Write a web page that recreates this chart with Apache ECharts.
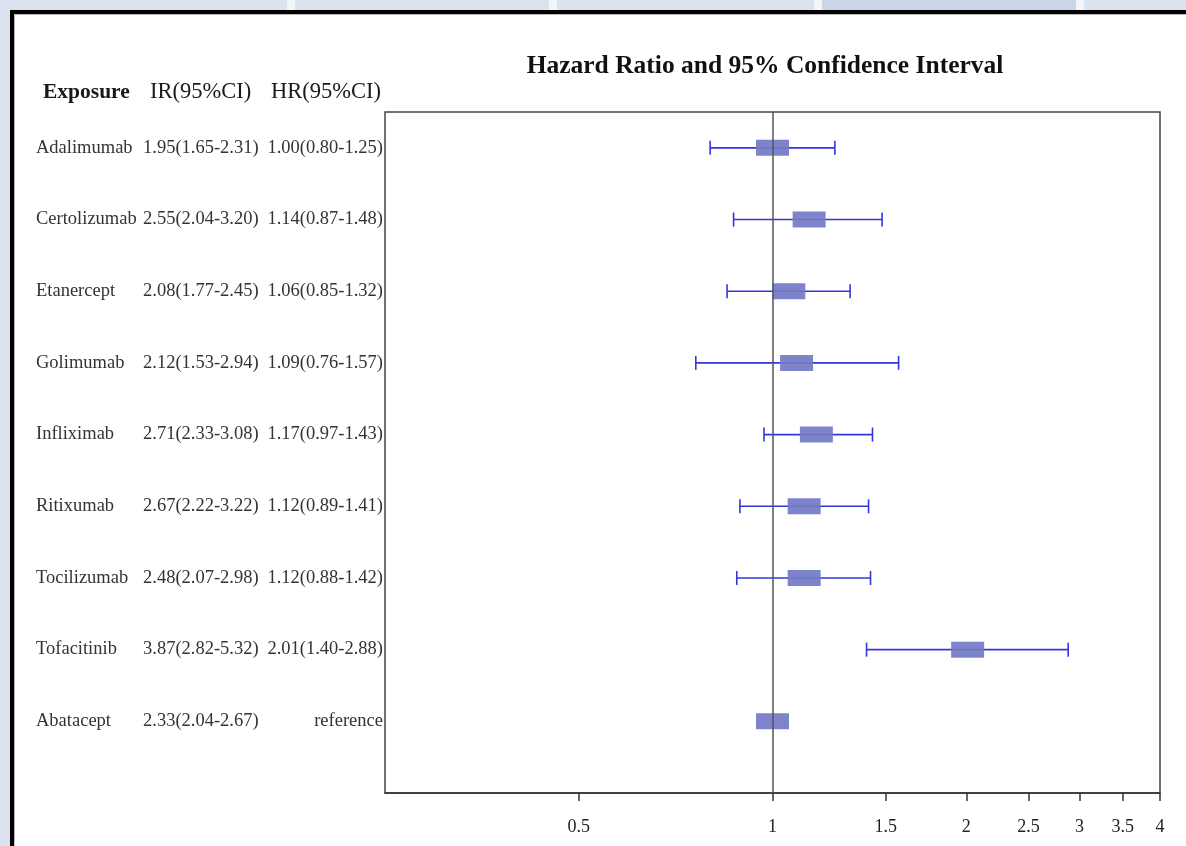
<!DOCTYPE html>
<html><head><meta charset="utf-8">
<script src="https://cdn.jsdelivr.net/npm/echarts@6/dist/echarts.min.js"></script>
<style>
html,body{margin:0;padding:0;width:1186px;height:846px;overflow:hidden;background:#dbe3f0;}
#frame{position:absolute;left:10px;top:10px;width:1200px;height:900px;border:4px solid #000;background:#fff;}
#frame:before{content:'';position:absolute;left:0;top:0;right:0;bottom:0;border-left:1px solid #bbb;border-top:1px solid #bbb;}
#chart{position:absolute;left:0;top:0;width:1186px;height:846px;}
.sep{position:absolute;top:0;height:10px;width:8px;background:#f3f5f9;}
#tab{position:absolute;top:0;left:822px;width:254px;height:10px;background:#c9d6ea;}
</style></head><body>
<div id="tab"></div>
<div class="sep" style="left:287px"></div>
<div class="sep" style="left:549px"></div>
<div class="sep" style="left:814px"></div>
<div class="sep" style="left:1076px"></div>
<div id="frame"></div>
<div id="chart"></div>
<script>
// ---- data ----
const exposures = ['Adalimumab','Certolizumab','Etanercept','Golimumab','Infliximab','Ritixumab','Tocilizumab','Tofacitinib','Abatacept'];
const irText = ['1.95(1.65-2.31)','2.55(2.04-3.20)','2.08(1.77-2.45)','2.12(1.53-2.94)','2.71(2.33-3.08)','2.67(2.22-3.22)','2.48(2.07-2.98)','3.87(2.82-5.32)','2.33(2.04-2.67)'];
const hrText = ['1.00(0.80-1.25)','1.14(0.87-1.48)','1.06(0.85-1.32)','1.09(0.76-1.57)','1.17(0.97-1.43)','1.12(0.89-1.41)','1.12(0.88-1.42)','2.01(1.40-2.88)','reference'];
const hr = [1.00,1.14,1.06,1.09,1.17,1.12,1.12,2.01,1.00];
const lower = [0.80,0.87,0.85,0.76,0.97,0.89,0.88,1.40,null];
const upper = [1.25,1.48,1.32,1.57,1.43,1.41,1.42,2.88,null];
const xTicks = [0.5,1,1.5,2,2.5,3,3.5,4];
const headers = ['Exposure','IR(95%CI)','HR(95%CI)'];
const titleText = 'Hazard Ratio and 95% Confidence Interval';

const SERIF = 'Liberation Serif, Times New Roman, serif';
const chart = echarts.init(document.getElementById('chart'), null, {renderer:'canvas'});

const whiskerData = [];
exposures.forEach((e,i)=>{ if(lower[i]!=null) whiskerData.push([lower[i], upper[i], i]); });
const boxData = hr.map((v,i)=>[v,i]);
const textData = exposures.map((e,i)=>[1,i]);

chart.setOption({
  animation:false,
  backgroundColor:'transparent',
  title:{text:titleText,left:760,top:48,textAlign:'center',
    textStyle:{fontFamily:SERIF,fontWeight:'bold',fontSize:25.5,color:'#111'}},
  graphic:[
    {type:'text',left:43,top:81,style:{text:headers[0],fontFamily:SERIF,fontWeight:'bold',fontSize:21.5,fill:'#1a1a1a'}},
    {type:'text',left:150,top:81,style:{text:headers[1],fontFamily:SERIF,fontSize:22.5,fill:'#1a1a1a'}},
    {type:'text',right:1186-381,top:81,style:{text:headers[2],fontFamily:SERIF,fontSize:22.5,fill:'#1a1a1a'}}
  ],
  grid:{left:385,right:26,top:112,bottom:53,show:true,borderColor:'#444',borderWidth:1.5,backgroundColor:'transparent'},
  xAxis:{type:'log',logBase:2,min:0.25,max:4,
    axisLine:{show:true,onZero:false,lineStyle:{color:'#333',width:1.5}},
    axisTick:{show:true,length:8,lineStyle:{color:'#333',width:1.5},customValues:xTicks},
    axisLabel:{show:true,customValues:xTicks,formatter:v=>String(v),fontFamily:SERIF,fontSize:18,color:'#222',margin:25},
    splitLine:{show:false}},
  yAxis:{type:'value',min:-0.5,max:9,inverse:true,show:false,splitLine:{show:false}},
  series:[
    {type:'custom',name:'ci',clip:false,z:3,data:whiskerData,
      renderItem:function(params,api){
        const lo=api.coord([api.value(0),api.value(2)]);
        const hi=api.coord([api.value(1),api.value(2)]);
        const h=7;
        const st={stroke:'#3535dd',lineWidth:1.6};
        return {type:'group',children:[
          {type:'line',shape:{x1:lo[0],y1:lo[1],x2:hi[0],y2:hi[1]},style:st},
          {type:'line',shape:{x1:lo[0],y1:lo[1]-h,x2:lo[0],y2:lo[1]+h},style:st},
          {type:'line',shape:{x1:hi[0],y1:hi[1]-h,x2:hi[0],y2:hi[1]+h},style:st}
        ]};
      },
      markLine:{silent:true,symbol:'none',label:{show:false},
        lineStyle:{color:'#555',width:1.5,type:'solid'},data:[{xAxis:1}]}
    },
    {type:'scatter',name:'hr',z:4,symbol:'rect',symbolSize:[33,16],data:boxData,
      itemStyle:{color:'#7379c6',opacity:0.92}},
    {type:'custom',name:'table',clip:false,z:5,data:textData,
      renderItem:function(params,api){
        const i=api.value(1);
        const y=api.coord([1,i])[1];
        const base={fontFamily:SERIF,fontSize:18.5,fill:'#333',verticalAlign:'middle'};
        return {type:'group',children:[
          {type:'text',x:36,y:y,style:Object.assign({text:exposures[i],align:'left'},base)},
          {type:'text',x:143,y:y,style:Object.assign({text:irText[i],align:'left'},base)},
          {type:'text',x:383,y:y,style:Object.assign({text:hrText[i],align:'right'},base)}
        ]};
      }
    }
  ]
});
</script>
</body></html>
